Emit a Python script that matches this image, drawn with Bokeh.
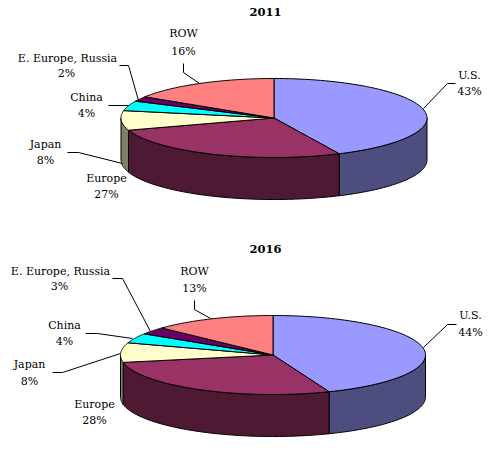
import numpy as np
from bokeh.plotting import figure
from bokeh.models import Range1d
from bokeh.core.properties import value
from bokeh.embed import file_html
from bokeh.resources import INLINE

regions = ["U.S.", "Europe", "Japan", "China", "E. Europe, Russia", "ROW"]
shares_2011 = [43, 27, 8, 4, 2, 16]
shares_2016 = [44, 28, 8, 4, 3, 13]
top_colors = ["#9999ff", "#993366", "#ffffcc", "#00ffff", "#660066", "#ff8080"]
wall_colors = ["#4d4d80", "#4d1933", "#808066", "#008080", "#330033", "#804040"]

W, H = 486, 441
p = figure(width=W, height=H, x_range=Range1d(0, W), y_range=Range1d(H, 0),
           output_backend="svg", toolbar_location=None, min_border=0,
           outline_line_color=None, background_fill_color="white")
p.axis.visible = False
p.grid.visible = False

FONT = "DejaVu Serif"
TXT = "11px"


def pt(cx, cy, rx, ry, theta):
    return cx + rx * np.sin(theta), cy - ry * np.cos(theta)


def draw_pie(shares, cx, cy, rx, ry, depth):
    edges = np.radians(np.cumsum([0] + shares) * 3.6)
    # side walls: only the front half of the rim is visible
    for i in range(len(shares)):
        a = max(edges[i], np.pi / 2)
        b = min(edges[i + 1], 3 * np.pi / 2)
        if b <= a:
            continue
        t = np.linspace(a, b, 80)
        x, y = pt(cx, cy, rx, ry, t)
        p.patch(np.r_[x, x[::-1]], np.r_[y, y[::-1] + depth],
                fill_color=wall_colors[i], line_color="black", line_width=1)
    # top slices
    for i in range(len(shares)):
        t = np.linspace(edges[i], edges[i + 1], 80)
        x, y = pt(cx, cy, rx, ry, t)
        p.patch(np.r_[cx, x], np.r_[cy, y],
                fill_color=top_colors[i], line_color="black", line_width=1)


def labels(names, shares, name_xy, share_xy, order):
    for i, (nx, ny), (sx, sy) in zip(order, name_xy, share_xy):
        p.text([nx], [ny], text=[names[i]], text_font=value(FONT), text_font_size=TXT,
               text_align="center", text_baseline="middle", text_color="black")
        p.text([sx], [sy], text=[f"{shares[i]}%"], text_font=value(FONT), text_font_size=TXT,
               text_align="center", text_baseline="middle", text_color="black")


def title(txt, x, y):
    p.text([x], [y], text=[txt], text_font=value(FONT), text_font_size="11.5px",
           text_font_style="bold", text_align="center", text_baseline="middle", text_color="black")


draw_pie(shares_2011, 273.5, 117.5, 153, 39.5, 42)
draw_pie(shares_2016, 272.5, 354.5, 152.5, 39.5, 42)

title("2011", 265, 11)
title("2016", 265, 248)

order = [0, 5, 4, 3, 2, 1]
labels(regions, shares_2011,
       [(469, 75), (183, 33), (67, 58), (86, 97), (45, 144), (106, 178)],
       [(469, 91), (183, 51), (66, 73), (86, 113), (45, 160), (106, 194)], order)
labels(regions, shares_2016,
       [(470, 315), (194, 271), (60, 271), (64, 325), (29, 364), (94, 404)],
       [(470, 332), (194, 288), (59, 286), (64, 341), (29, 381), (94, 420)], order)

leaders = [
    ([423, 447, 455], [108, 83, 83]),
    ([183, 183, 199], [63, 72, 83]),
    ([119, 128, 138], [65, 65, 100]),
    ([108, 128], [105, 105]),
    ([67, 78, 122], [152, 152, 163]),
    ([423, 447, 456], [347, 324, 324]),
    ([194, 194, 210], [300, 309, 318]),
    ([112, 122, 150], [278, 278, 331]),
    ([85, 97, 132], [333, 333, 338]),
    ([52, 62, 120], [372, 372, 353]),
]
for lx, ly in leaders:
    p.line(lx, ly, line_color="black", line_width=1)

open("out.html", "w").write(file_html(p, INLINE))
